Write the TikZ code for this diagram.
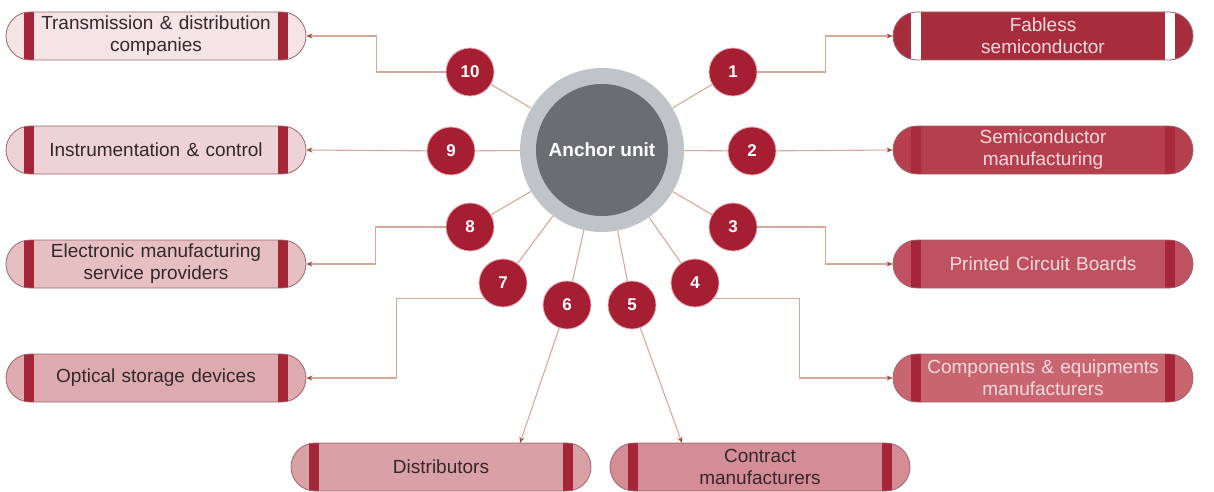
\documentclass[tikz,border=0pt]{standalone}
\usepackage{fontspec}
\setmainfont{Liberation Sans}
\usetikzlibrary{arrows.meta}

\definecolor{crimson}{RGB}{165,30,50}
\definecolor{numline}{RGB}{236,168,176}
\definecolor{barred}{RGB}{165,38,56}
\definecolor{boxline}{RGB}{158,100,110}
\definecolor{linkcol}{RGB}{214,168,154}
\definecolor{tipcol}{RGB}{150,80,70}
\definecolor{ringgrey}{RGB}{192,196,200}
\definecolor{coregrey}{RGB}{108,109,112}
\definecolor{lighttext}{RGB}{248,218,222}
\definecolor{darktext}{RGB}{52,40,42}
\definecolor{cfab}{RGB}{168,45,60}
\definecolor{csem}{RGB}{182,63,77}
\definecolor{cpcb}{RGB}{192,81,96}
\definecolor{ccom}{RGB}{201,101,111}
\definecolor{ccon}{RGB}{212,141,149}
\definecolor{cdis}{RGB}{217,160,166}
\definecolor{copt}{RGB}{221,170,176}
\definecolor{cele}{RGB}{230,191,195}
\definecolor{cins}{RGB}{238,211,214}
\definecolor{ctra}{RGB}{245,228,230}

\begin{document}
\begin{tikzpicture}[x=1pt,y=-1pt,
	box/.style n args={3}{draw=boxline,line width=0.8pt,fill=#1,text=#3,
	  rounded corners=24pt,minimum width=300pt,minimum height=48pt,
	  text width=250pt,align=center,inner sep=0pt,
	  font=\fontsize{19}{22}\selectfont,
	  path picture={
	    \fill[#2,sharp corners] ([xshift=18pt]path picture bounding box.south west)
	      rectangle ([xshift=28pt]path picture bounding box.north west);
	    \fill[#2,sharp corners] ([xshift=-28pt]path picture bounding box.south east)
	      rectangle ([xshift=-18pt]path picture bounding box.north east);}},
	num/.style={circle,fill=crimson,draw=numline,line width=0.8pt,minimum size=48pt,
	  inner sep=0pt,text=white,font=\fontsize{17}{17}\selectfont\bfseries},
	link/.style={draw=linkcol,line width=1.1pt,-{Stealth[length=6pt,width=5pt,color=tipcol]}},
	spoke/.style={draw=linkcol,line width=1.1pt}]

	\useasboundingbox (0,0) rectangle (1214,492);

	\node[circle,fill=ringgrey,minimum size=164pt,inner sep=0pt,text=white,
	  font=\fontsize{19}{19}\selectfont\bfseries,
	  path picture={\fill[coregrey] (path picture bounding box.center) circle[radius=66pt];}]
	  (anc) at (602,150) {Anchor unit};

	\foreach \i/\x/\y in {1/733/72,2/752/151,3/733/227,4/695/283,5/632/305,
	                      6/567/305,7/503/283,8/470/227,9/451/151,10/470/72} {
		\node[num] (n\i) at (\x,\y) {\i};
		\draw[spoke] (anc) -- (n\i);
	}

	\node[box={cfab}{white}{lighttext}] (fab) at (1043,36) {Fabless\\semiconductor};
	\node[box={csem}{barred!80!csem}{lighttext}] (sem) at (1043,150) {Semiconductor\\manufacturing};
	\node[box={cpcb}{barred}{lighttext}] (pcb) at (1043,264) {Printed Circuit Boards};
	\node[box={ccom}{barred}{lighttext}] (com) at (1043,378) {Components \& equipments\\manufacturers};
	\node[box={ccon}{barred}{darktext}] (con) at (760,467) {Contract\\manufacturers};
	\node[box={cdis}{barred}{darktext}] (dis) at (441,467) {Distributors};
	\node[box={copt}{barred}{darktext}] (opt) at (156,378) {Optical storage devices};
	\node[box={cele}{barred}{darktext}] (ele) at (156,264) {Electronic manufacturing\\service providers};
	\node[box={cins}{barred}{darktext}] (ins) at (156,150) {Instrumentation \& control};
	\node[box={ctra}{barred}{darktext}] (tra) at (156,36) {Transmission \& distribution\\companies};

	\coordinate (t5) at (682,443);
	\coordinate (t6) at (520,443);

	\draw[link] (n1.east) -- ++(68,0) |- (fab.west);
	\draw[link] (n2) -- (sem.west);
	\draw[link] (n3.east) -- ++(68,0) |- (pcb.west);
	\draw[link] (n4.-40) -- ++(86,0) |- (com.west);
	\draw[link] (n5) -- (t5);
	\draw[link] (n6) -- (t6);
	\draw[link] (n7.220) -- ++(-88,0) |- (opt.east);
	\draw[link] (n8.west) -- ++(-70,0) |- (ele.east);
	\draw[link] (n9) -- (ins.east);
	\draw[link] (n10.west) -- ++(-69,0) |- (tra.east);
\end{tikzpicture}
\end{document}
